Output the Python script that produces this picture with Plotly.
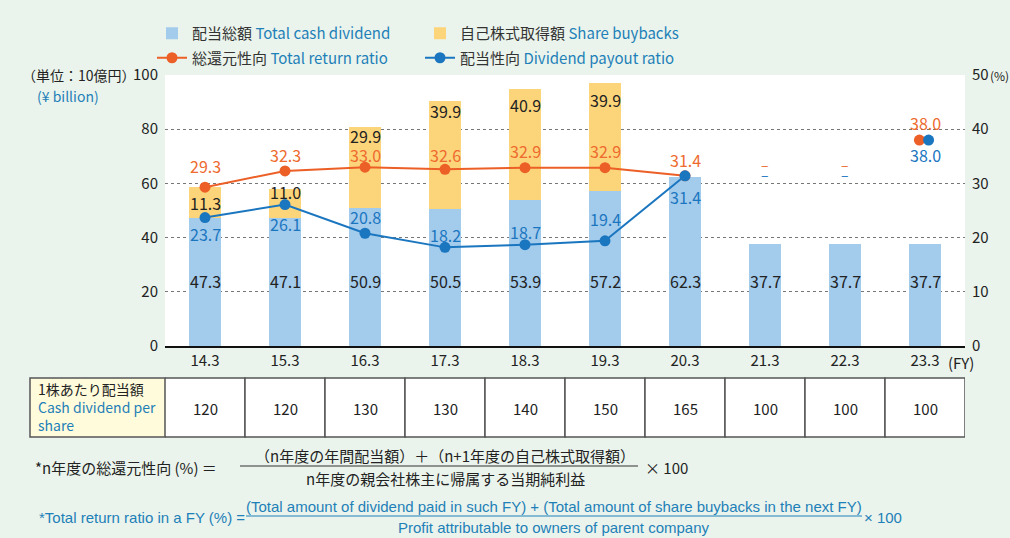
import plotly.graph_objects as go

# ---------------- data ----------------
fiscal_years = ["14.3", "15.3", "16.3", "17.3", "18.3", "19.3", "20.3", "21.3", "22.3", "23.3"]
cash_dividend = [47.3, 47.1, 50.9, 50.5, 53.9, 57.2, 62.3, 37.7, 37.7, 37.7]
share_buybacks = [11.3, 11.0, 29.9, 39.9, 40.9, 39.9, None, None, None, None]
total_return_ratio = [29.3, 32.3, 33.0, 32.6, 32.9, 32.9, 31.4, None, None, 38.0]
payout_ratio = [23.7, 26.1, 20.8, 18.2, 18.7, 19.4, 31.4, None, None, 38.0]
dividend_per_share = [120, 120, 130, 130, 140, 150, 165, 100, 100, 100]
is_forecast = [False, False, False, False, False, False, False, True, True, True]
left_ticks = [0, 20, 40, 60, 80, 100]
right_ticks = [0, 10, 20, 30, 40, 50]

# label offsets (pixels, style only)
buyback_label_shift = [-16, -3, -9, -10, -16, -17, 0, 0, 0, 0]
trr_label_shift = [21, 16, 12, 14, 17, 17, 16, 0, 0, 17]
por_label_shift = [-16, -19, 16, 12, 13, 22, -21, 0, 0, -15]

# ---------------- style ----------------
W, H = 1010, 538
L, R, T, B = 165, 45, 75, 192
BG = "#EAF4EC"
C_DIV = "#A3CBEC"
C_BUY = "#FCD57B"
C_TRR = "#EC5F26"
C_TRR_TXT = "#EE6A2E"
C_POR = "#1B76C0"
C_EN = "#1E80B8"
C_TXT = "#222222"
FONT = "Noto Sans CJK JP, Noto Sans, sans-serif"
FONT_EN_F = "Liberation Sans Narrow, Arial Narrow, Liberation Sans, sans-serif"


def px(x):
    return (x - L) / (W - L - R)


def py(y):
    return (H - B - y) / (H - T - B)


xs = list(range(len(fiscal_years)))

fig = go.Figure()

fig.add_trace(go.Bar(
    x=xs, y=cash_dividend, marker=dict(color=C_DIV, line=dict(width=0)), width=0.4,
    name=f'<span style="color:#333">配当総額</span> <span style="color:{C_EN}">Total cash dividend</span>',
    legend="legend", hoverinfo="skip"))
fig.add_trace(go.Bar(
    x=xs, y=share_buybacks, marker=dict(color=C_BUY, line=dict(width=0)), width=0.4,
    name=f'<span style="color:#333">自己株式取得額</span> <span style="color:{C_EN}">Share buybacks</span>',
    legend="legend", hoverinfo="skip"))


def split(vals):
    a_x = [x for x, v, f in zip(xs, vals, is_forecast) if v is not None and not f]
    a_y = [v for v, f in zip(vals, is_forecast) if v is not None and not f]
    f_x = [x for x, v, f in zip(xs, vals, is_forecast) if v is not None and f]
    f_y = [v for v, f in zip(vals, is_forecast) if v is not None and f]
    return a_x, a_y, f_x, f_y


for vals, color, name, off in [
    (total_return_ratio, C_TRR,
     f'<span style="color:#333">総還元性向</span> <span style="color:{C_EN}">Total return ratio</span>', -0.07),
    (payout_ratio, C_POR,
     f'<span style="color:#333">配当性向</span> <span style="color:{C_EN}">Dividend payout ratio</span>', 0.045),
]:
    a_x, a_y, f_x, f_y = split(vals)
    fig.add_trace(go.Scatter(
        x=a_x, y=a_y, yaxis="y2", mode="lines+markers", name=name, legend="legend2",
        line=dict(color=color, width=2), marker=dict(color=color, size=11), hoverinfo="skip"))
    fig.add_trace(go.Scatter(
        x=[x + off for x in f_x], y=f_y, yaxis="y2", mode="markers", showlegend=False,
        marker=dict(color=color, size=11), hoverinfo="skip"))

ann = []


def A(x, y, text, xref="x", yref="y", color=C_TXT, size=16, xanchor="center", yanchor="middle",
      yshift=0, family=FONT, align="center"):
    ann.append(dict(x=x, y=y, xref=xref, yref=yref, text=text, showarrow=False,
                    font=dict(color=color, size=size, family=family), xanchor=xanchor,
                    yanchor=yanchor, yshift=yshift, align=align))


# bar labels
for i, (d, b) in enumerate(zip(cash_dividend, share_buybacks)):
    A(i, 24, f"{d:.1f}")
    if b is not None:
        A(i, d + b, f"{b:.1f}", yshift=buyback_label_shift[i])

# ratio labels
for i, (t, p) in enumerate(zip(total_return_ratio, payout_ratio)):
    if t is not None:
        A(i, t, f"{t:.1f}", yref="y2", color=C_TRR_TXT, yshift=trr_label_shift[i])
    else:
        A(i, 33.5, "–", yref="y2", color=C_TRR_TXT, size=14)
    if p is not None:
        A(i, p, f"{p:.1f}", yref="y2", color=C_POR, yshift=por_label_shift[i])
    else:
        A(i, 31.7, "–", yref="y2", color=C_POR, size=14)

# axis captions
A(px(138), py(75), "（単位：10億円）", xref="paper", yref="paper", size=14, xanchor="right")
A(px(35), py(96), "(¥ billion)", xref="paper", yref="paper", size=14, xanchor="left", color=C_EN)
A(px(988), py(75), "(%)", xref="paper", yref="paper", size=12, xanchor="left")
A(px(946), py(362), "(FY)", xref="paper", yref="paper", size=15, xanchor="left")

# table
shapes = []
t_top, t_bot = py(378), py(437)
shapes.append(dict(type="rect", xref="paper", yref="paper", x0=px(30), x1=-0.0, y0=t_bot, y1=t_top,
                   fillcolor="#FFFBDB", line=dict(color="#555", width=1.5), layer="above"))
for i, v in enumerate(dividend_per_share):
    shapes.append(dict(type="rect", xref="x", yref="paper", x0=i - 0.5, x1=i + 0.5, y0=t_bot, y1=t_top,
                       fillcolor="white", line=dict(color="#555", width=1.5), layer="above"))
    A(i, py(408), str(v), yref="paper", size=15)
A(px(36), py(407), f'1株あたり配当額<br><span style="color:{C_EN}">Cash dividend per<br>share</span>',
  xref="paper", yref="paper", size=14, xanchor="left", align="left")

# formula (Japanese)
A(px(33), py(467), "*n年度の総還元性向 (%) ＝", xref="paper", yref="paper", size=15, xanchor="left")
A(px(445), py(455), "（n年度の年間配当額）＋（n+1年度の自己株式取得額）", xref="paper", yref="paper", size=15)
A(px(445), py(478), "n年度の親会社株主に帰属する当期純利益", xref="paper", yref="paper", size=15)
A(px(643), py(467), "× 100", xref="paper", yref="paper", size=15, xanchor="left")
shapes.append(dict(type="line", xref="paper", yref="paper", x0=px(240), x1=px(638), y0=py(466), y1=py(466),
                   line=dict(color="#333", width=1)))

# formula (English)
A(px(37), py(517), "*Total return ratio in a FY (%) =", xref="paper", yref="paper", size=15,
  xanchor="left", color=C_EN, family=FONT_EN_F)
A(px(554), py(506), "(Total amount of dividend paid in such FY) + (Total amount of share buybacks in the next FY)",
  xref="paper", yref="paper", size=15, color=C_EN, family=FONT_EN_F)
A(px(554), py(527), "Profit attributable to owners of parent company", xref="paper", yref="paper", size=15,
  color=C_EN, family=FONT_EN_F)
A(px(862), py(517), "× 100", xref="paper", yref="paper", size=15, xanchor="left", color=C_EN, family=FONT_EN_F)
shapes.append(dict(type="line", xref="paper", yref="paper", x0=px(246), x1=px(862), y0=py(516), y1=py(516),
                   line=dict(color=C_EN, width=1)))

legend_common = dict(orientation="h", xanchor="left", yanchor="middle", x=px(152),
                     entrywidth=223, entrywidthmode="pixels", bgcolor="rgba(0,0,0,0)",
                     font=dict(size=15, family=FONT, color="#333"), traceorder="normal",
                     itemclick=False, itemdoubleclick=False)

fig.update_layout(
    width=W, height=H, margin=dict(l=L, r=R, t=T, b=B),
    paper_bgcolor=BG, plot_bgcolor="white",
    barmode="stack", bargap=0.6,
    font=dict(family=FONT, size=15, color=C_TXT),
    xaxis=dict(range=[-0.5, 9.5], tickvals=xs, ticktext=fiscal_years, showgrid=False, zeroline=False,
               showline=True, linecolor="#111", linewidth=2, ticks="", tickfont=dict(size=15),
               fixedrange=True),
    yaxis=dict(range=[0, 100], tickvals=left_ticks, showgrid=True, gridcolor="#777", griddash="dot",
               gridwidth=1, zeroline=False, showline=False, ticks="", tickfont=dict(size=15),
               ticklabelstandoff=6, fixedrange=True),
    yaxis2=dict(range=[0, 50], tickvals=right_ticks, overlaying="y", side="right", showgrid=False,
                zeroline=False, showline=False, ticks="", tickfont=dict(size=15),
                ticklabelstandoff=6, fixedrange=True),
    legend=dict(y=py(33.5), **legend_common),
    legend2=dict(y=py(58), **legend_common),
    annotations=ann, shapes=shapes,
    showlegend=True,
)

fig.write_html("out.html", config={"displayModeBar": False},
               post_script="document.body.style.margin='0';document.body.style.overflow='hidden';")
